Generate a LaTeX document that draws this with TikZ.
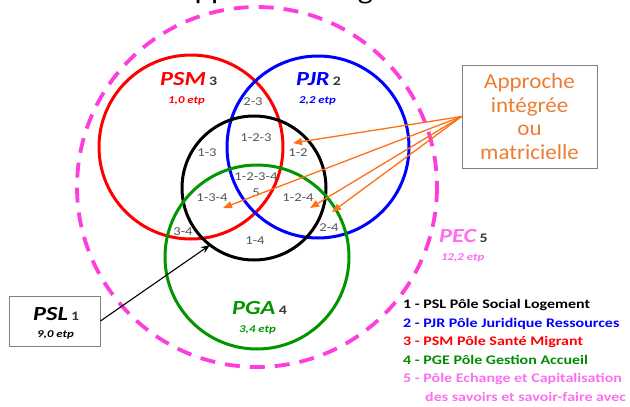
\documentclass[tikz,border=0pt]{standalone}
\usepackage{fontspec}
\setmainfont{Carlito}
\newfontfamily\wfont{Carlito}[FakeStretch=1.22]
\newfontfamily\afont{Carlito}[FakeStretch=1.07]
\usetikzlibrary{arrows.meta}
\definecolor{pecpink}{RGB}{255,60,220}
\definecolor{pectext}{RGB}{255,110,240}
\definecolor{pgagreen}{RGB}{0,150,0}
\definecolor{leggreen}{RGB}{0,140,0}
\definecolor{regray}{RGB}{85,85,85}
\definecolor{numgray}{RGB}{55,55,55}
\definecolor{oline}{RGB}{255,112,20}
\definecolor{otext}{RGB}{237,125,49}
\definecolor{boxgray}{RGB}{128,128,128}
\newcommand{\polenum}[1]{\,{\fontsize{13}{13}\selectfont\upshape\color{numgray}#1}}
\begin{document}
\begin{tikzpicture}[x=1pt,y=-1pt,
  ring/.style={line width=3pt},
  reg/.style={text=regray, font=\wfont\fontsize{12}{12}\selectfont, inner sep=0pt},
  big/.style={inner sep=0pt, anchor=base west, font=\wfont\fontsize{20}{20}\selectfont\bfseries\itshape},
  etp/.style={inner sep=0pt, anchor=base west, font=\wfont\fontsize{10.5}{11}\selectfont\bfseries\itshape},
  leg/.style={inner sep=0pt, anchor=base west, font=\wfont\fontsize{13.1}{13}\selectfont\bfseries},
  obox/.style={draw=boxgray, line width=0.9pt, minimum width=135pt, minimum height=103pt, inner sep=0pt, align=center, text=otext, font=\afont\fontsize{21.5}{23.5}\selectfont},
  pbox/.style={draw=boxgray, line width=0.9pt, minimum width=91pt, minimum height=50pt, inner sep=0pt},
  oarrow/.style={draw=oline, line width=1.3pt, -{Triangle[length=9pt,width=7pt]}},
  karrow/.style={draw=black, line width=1.1pt, -{Stealth[length=9pt,width=7pt]}}
]
\useasboundingbox (0,0) rectangle (630,407);
% truncated title (only its descenders fall inside the picture)
\node[inner sep=0pt, anchor=base west, font=\wfont\fontsize{26}{26}\selectfont] (title) at (176,-1) {Approche intégrée};
% circles
\draw[pecpink, line width=3.8pt, dash pattern=on 15pt off 10pt] (257,187) circle[radius=180];
\draw[ring, red] (191,147) circle[radius=92];
\draw[ring, blue] (318,147) circle[radius=91];
\draw[ring, black] (254,188) circle[radius=72];
\draw[ring, pgagreen] (257,257) circle[radius=92];
% circle labels
\node[big, text=red] (psm) at (160,85) {PSM\polenum{3}};
\node[etp, text=red] (psmetp) at (168,103) {1,0 etp};
\node[big, text=blue] (pjr) at (296,85) {PJR\polenum{2}};
\node[etp, text=blue] (pjretp) at (299,103) {2,2 etp};
\node[big, text=pgagreen] (pga) at (232,314) {PGA\polenum{4}};
\node[etp, text=pgagreen] (pgaetp) at (239,332) {3,4 etp};
\node[big, text=pectext] (pec) at (439,242) {PEC\polenum{5}};
\node[etp, text=pectext] (pecetp) at (441,260) {12,2 etp};
% region labels
\node[reg] (r23) at (253,102) {2-3};
\node[reg] (r123) at (256,138) {1-2-3};
\node[reg] (r13) at (207,153) {1-3};
\node[reg] (r12) at (298,153) {1-2};
\node[reg] (r1234) at (256,177) {1-2-3-4};
\node[reg] (r5) at (256,193) {5};
\node[reg] (r134) at (212,198) {1-3-4};
\node[reg] (r124) at (298,198) {1-2-4};
\node[reg] (r34) at (183,232) {3-4};
\node[reg] (r24) at (329,228) {2-4};
\node[reg] (r14) at (255,241) {1-4};
% PSL box
\node[pbox] (psl) at (54.5,321) {};
\node[big, text=black] (psltxt) at (33,320) {PSL\polenum{1}};
\node[etp, text=black] (psletp) at (37,337) {9,0 etp};
\coordinate (pslend) at (210,245);
\draw[karrow] (psl.east) -- (pslend);
% Approche box
\node[obox] (appr) at (529.5,116.5) {Approche\\intégrée\\ou\\matricielle};
\coordinate (o1) at (293,143);
\coordinate (o2) at (223,208);
\coordinate (o3) at (310,208);
\coordinate (o4) at (332,212);
\foreach \t in {o1,o2,o3,o4} \draw[oarrow] (appr.west) -- (\t);
% legend
\node[leg, text=black] (l1) at (403,308.5) {1 - PSL Pôle Social Logement};
\node[leg, text=blue] (l2) at (403,327) {2 - PJR Pôle Juridique Ressources};
\node[leg, text=red] (l3) at (403,345.5) {3 - PSM Pôle Santé Migrant};
\node[leg, text=leggreen] (l4) at (403,364) {4 - PGE Pôle Gestion Accueil};
\node[leg, text=pectext] (l5) at (403,382.5) {5 - Pôle Echange et Capitalisation};
\node[leg, text=pectext] (l6) at (425,401) {des savoirs et savoir-faire avec};
\end{tikzpicture}
\end{document}
